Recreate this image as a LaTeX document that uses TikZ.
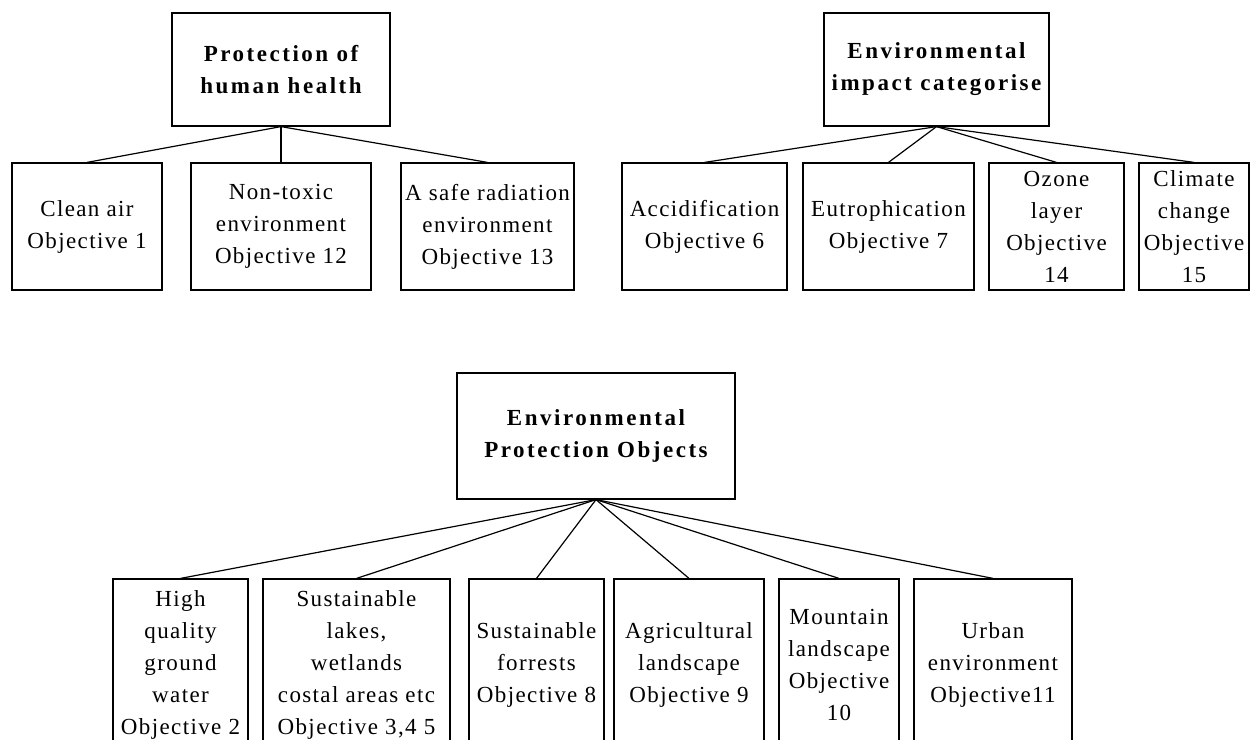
\documentclass[tikz,border=0pt]{standalone}
\usepackage{fontspec}
\setmainfont[LetterSpace=6,BoldFeatures={LetterSpace=11}]{Liberation Serif}
\usepackage{tikz}

\begin{document}
\begin{tikzpicture}[x=1pt, y=1pt, line width=0.6pt,
    cat/.style={rectangle, draw, align=center, inner sep=2pt, font=\fontsize{11.5}{16}\selectfont\bfseries},
    obj/.style={rectangle, draw, align=center, inner xsep=2pt, inner ysep=0pt, font=\fontsize{11.5}{16}\selectfont}]
    \clip (0,0) rectangle (625,-370);

    % human health
    \node (hh) [cat, minimum width=109pt, minimum height=56.5pt] at (140.5,-34.75) {Protection of\\human health};
    \node (air) [obj, minimum width=75pt, minimum height=63.5pt] at (43.5,-113.25) {Clean air\\Objective 1};
    \node (toxic) [obj, minimum width=90pt, minimum height=63.5pt, right of=air, node distance=97pt] {Non-toxic\\environment\\Objective 12};
    \node (rad) [obj, minimum width=85.5pt, minimum height=63.5pt, right of=toxic, node distance=103.25pt] {A safe radiation\\environment\\Objective 13};

    % impact categories
    \node (eic) [cat, minimum width=112.5pt, minimum height=56.5pt] at (468.25,-34.75) {Environmental\\impact categorise};
    \node (acid) [obj, minimum width=82.5pt, minimum height=63.5pt] at (352.25,-113.25) {Accidification\\Objective 6};
    \node (eutro) [obj, minimum width=85.5pt, minimum height=63.5pt, right of=acid, node distance=92pt] {Eutrophication\\Objective 7};
    \node (ozone) [obj, minimum width=67.5pt, minimum height=63.5pt, right of=eutro, node distance=84pt] {Ozone\\layer\\Objective\\14};
    \node (climate) [obj, minimum width=55pt, minimum height=63.5pt, right of=ozone, node distance=68.75pt] {Climate\\change\\Objective\\15};

    % protection objects
    \node (epo) [cat, minimum width=139pt, minimum height=63pt] at (298,-218) {Environmental\\Protection Objects};
    \node (ground) [obj, minimum width=67.5pt, minimum height=86pt] at (90.25,-332.5) {High\\quality\\ground\\water\\Objective 2};
    \node (lakes) [obj, minimum width=93.5pt, minimum height=86pt, right of=ground, node distance=88pt] {Sustainable\\lakes,\\wetlands\\costal areas etc\\Objective 3,4 5};
    \node (forest) [obj, minimum width=67.5pt, minimum height=86pt, right of=lakes, node distance=90pt] {Sustainable\\forrests\\Objective 8};
    \node (agri) [obj, minimum width=75pt, minimum height=86pt, right of=forest, node distance=76.25pt] {Agricultural\\landscape\\Objective 9};
    \node (mount) [obj, minimum width=60pt, minimum height=86pt, right of=agri, node distance=75pt] {Mountain\\landscape\\Objective\\10};
    \node (urban) [obj, minimum width=79pt, minimum height=86pt, right of=mount, node distance=77pt] {Urban\\environment\\Objective11};

    \draw (hh.south) -- (air.north);
    \draw (hh.south) -- (toxic.north);
    \draw (hh.south) -- (rad.north);
    \draw (eic.south) -- (acid.north);
    \draw (eic.south) -- (eutro.north);
    \draw (eic.south) -- (ozone.north);
    \draw (eic.south) -- (climate.north);
    \draw (epo.south) -- (ground.north);
    \draw (epo.south) -- (lakes.north);
    \draw (epo.south) -- (forest.north);
    \draw (epo.south) -- (agri.north);
    \draw (epo.south) -- (mount.north);
    \draw (epo.south) -- (urban.north);
\end{tikzpicture}
\end{document}
